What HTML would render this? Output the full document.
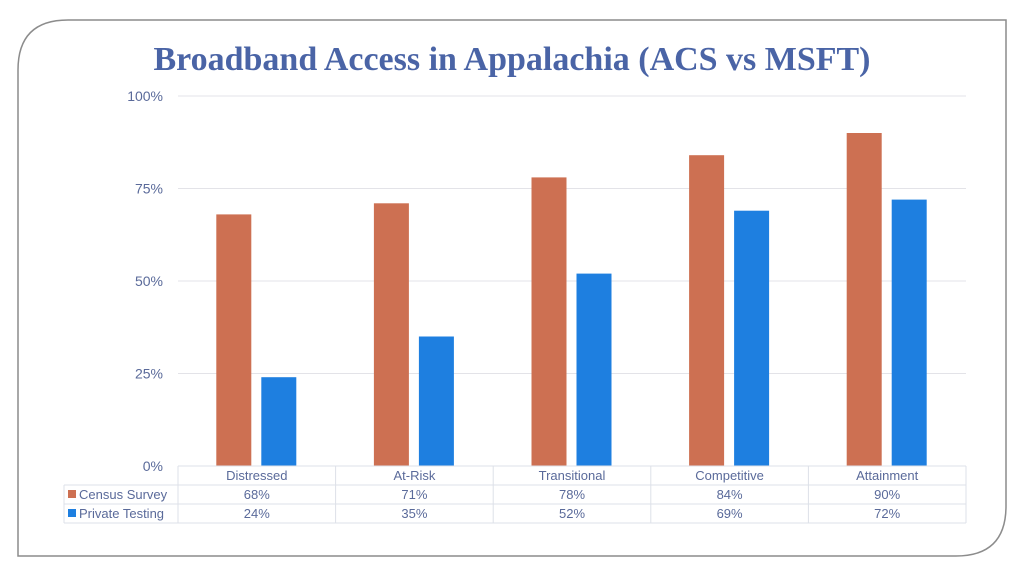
<!DOCTYPE html>
<html><head><meta charset="utf-8"><style>
body{margin:0;background:#fff}
svg{display:block;font-family:"Liberation Sans",sans-serif}
</style></head><body>
<svg id="c" width="1024" height="576" xmlns="http://www.w3.org/2000/svg">
<path d="M68,20 H1006 V506 Q1006,556 956,556 H18 V70 Q18,20 68,20 Z" fill="#fff" stroke="#8c8c8c" stroke-width="1.5"/>
<text x="512" y="70" text-anchor="middle" font-family="Liberation Serif,serif" font-weight="bold" font-size="34" fill="#4a64a6" textLength="717" lengthAdjust="spacingAndGlyphs">Broadband Access in Appalachia (ACS vs MSFT)</text>
<g id="grid"></g><g id="bars"></g><g id="tbl"></g>
</svg>
<script>
const categories=["Distressed","At-Risk","Transitional","Competitive","Attainment"];
const censusSurvey=[68,71,78,84,90];
const privateTesting=[24,35,52,69,72];
const yTicks=[0,25,50,75,100];
const seriesNames=["Census Survey","Private Testing"];
const colors=["#cd7052","#1e7fe0"];
const NS="http://www.w3.org/2000/svg";
const X0=178,X1=966,Y0=466,Y1=96;
const cw=(X1-X0)/categories.length;
const y=v=>Y0-(v/100)*(Y0-Y1);
const xc=i=>X0+cw*(i+0.5);
function mk(t,a,p,txt){const e=document.createElementNS(NS,t);for(const k in a)e.setAttribute(k,a[k]);if(txt!==undefined)e.textContent=txt;p.appendChild(e);return e;}
const grid=document.getElementById('grid'),bars=document.getElementById('bars'),tbl=document.getElementById('tbl');
yTicks.forEach(t=>{
  if(t>0){const l=mk('line',{x1:X0,x2:X1,y1:y(t),y2:y(t),stroke:'#e3e3e8','stroke-width':1},grid);
  
  }
  const tx=mk('text',{x:163,y:y(t)+5,'text-anchor':'end','font-size':14,fill:'#5a6a9a'},grid,t+'%');
  
  
});
const series=[censusSurvey,privateTesting];
series.forEach((s,si)=>{
  s.forEach((v,i)=>{
    const bx=xc(i)+(si===0?-40.5:4.5);
    const r=mk('rect',{x:bx,y:y(v),width:35,height:Y0-y(v),fill:colors[si]},bars);
    
    
  });
});
// table
const rows=[466,485,504,523];
const st={stroke:'#dde0e8','stroke-width':1};
rows.forEach((ry,k)=>{mk('line',Object.assign({x1:k===0?X0:64,x2:X1,y1:ry,y2:ry},st),tbl);});
mk('line',Object.assign({x1:64,x2:64,y1:485,y2:523},st),tbl);
for(let i=0;i<=categories.length;i++)mk('line',Object.assign({x1:X0+cw*i,x2:X0+cw*i,y1:466,y2:523},st),tbl);
categories.forEach((c,i)=>{
  const t=mk('text',{x:xc(i),y:480,'text-anchor':'middle','font-size':13,fill:'#5a6a9a'},tbl,c);
  
  
  series.forEach((s,si)=>{
    const v=mk('text',{x:xc(i),y:499+si*19,'text-anchor':'middle','font-size':13,fill:'#5a6a9a'},tbl,s[i]+'%');
    
    
  });
});
seriesNames.forEach((n,si)=>{
  const k=mk('rect',{x:68,y:490+si*19,width:8,height:8,fill:colors[si]},tbl);
  
  
  const t=mk('text',{x:79,y:499+si*19,'font-size':13,fill:'#5a6a9a'},tbl,n);
  
  
});
</script>
</body></html>
